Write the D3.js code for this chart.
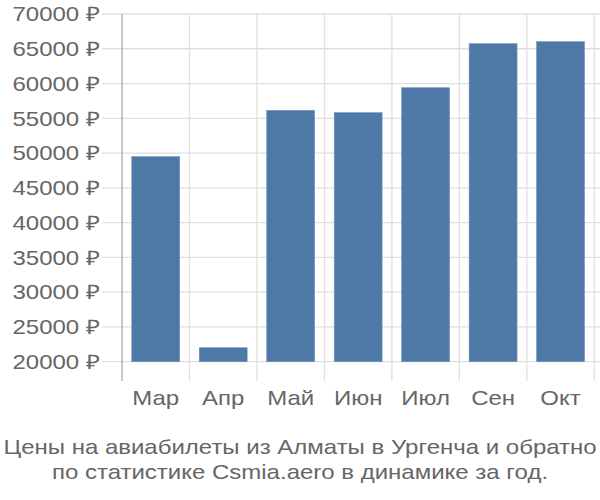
<!DOCTYPE html>
<html><head><meta charset="utf-8">
<script src="https://cdn.jsdelivr.net/npm/d3@7"></script>
<style>body{margin:0;background:#fff;}text{font-family:"Liberation Sans",Arial,sans-serif;}</style>
</head><body><svg id="c" width="600" height="500"></svg>
<script>
const categories = ["Мар","Апр","Май","Июн","Июл","Сен","Окт"];
const values = [49480, 22010, 56150, 55810, 59400, 65730, 66020];
const yTicks = [20000,25000,30000,35000,40000,45000,50000,55000,60000,65000,70000];
const titleLines = ["Цены на авиабилеты из Алматы в Ургенча и обратно","по статистике Csmia.aero в динамике за год."];

const svg = d3.select("#c");
const plotLeft = 122, plotRight = 594.3, plotTop = 14, plotBottom = 361.7;
const x = d3.scaleBand().domain(categories).range([plotLeft, plotRight]).padding(0);
const y = d3.scaleLinear().domain([20000, 70000]).range([plotBottom, plotTop]);
const sx = 1.2;

svg.append("g").selectAll("line").data(yTicks).join("line")
  .attr("x1", 102).attr("x2", 600).attr("y1", d=>y(d)).attr("y2", d=>y(d))
  .attr("stroke", "#e0e0e0").attr("stroke-width", 1.3);
const bounds = categories.map(c=>x(c)+x.bandwidth());
svg.append("g").selectAll("line").data(bounds).join("line")
  .attr("x1", d=>d).attr("x2", d=>d).attr("y1", plotTop).attr("y2", 381)
  .attr("stroke", "#e0e0e0").attr("stroke-width", 1.3);
svg.append("line").attr("x1", plotLeft).attr("x2", plotLeft).attr("y1", plotTop).attr("y2", 381)
  .attr("stroke", "#aaaaaa").attr("stroke-width", 1.3);

const inset = x.step()*0.145;
svg.append("g").selectAll("rect").data(values).join("rect")
  .attr("x", (d,i)=>x(categories[i])+inset)
  .attr("width", x.step()-2*inset)
  .attr("y", d=>y(d))
  .attr("height", d=>y(20000)-y(d))
  .attr("fill", "#4e79a7")
  .attr("stroke", "#6e92bd").attr("stroke-width", 0.6);

svg.append("g").selectAll("text").data(yTicks).join("text")
  .attr("transform", d=>`translate(100,${y(d)}) scale(${sx},1)`).attr("dy", "0.36em")
  .attr("text-anchor", "end").attr("font-size", 20).attr("fill", "#666")
  .text(d=>d + " ₽");
svg.append("g").selectAll("text").data(categories).join("text")
  .attr("transform", d=>`translate(${x(d)+x.bandwidth()/2},404.5) scale(${sx},1)`)
  .attr("text-anchor", "middle").attr("font-size", 20).attr("fill", "#666")
  .text(d=>d);
svg.append("g").selectAll("text").data(titleLines).join("text")
  .attr("transform", (d,i)=>`translate(300,${454+i*25}) scale(${sx},1)`)
  .attr("text-anchor", "middle").attr("font-size", 20).attr("fill", "#666")
  .text(d=>d);
</script></body></html>
